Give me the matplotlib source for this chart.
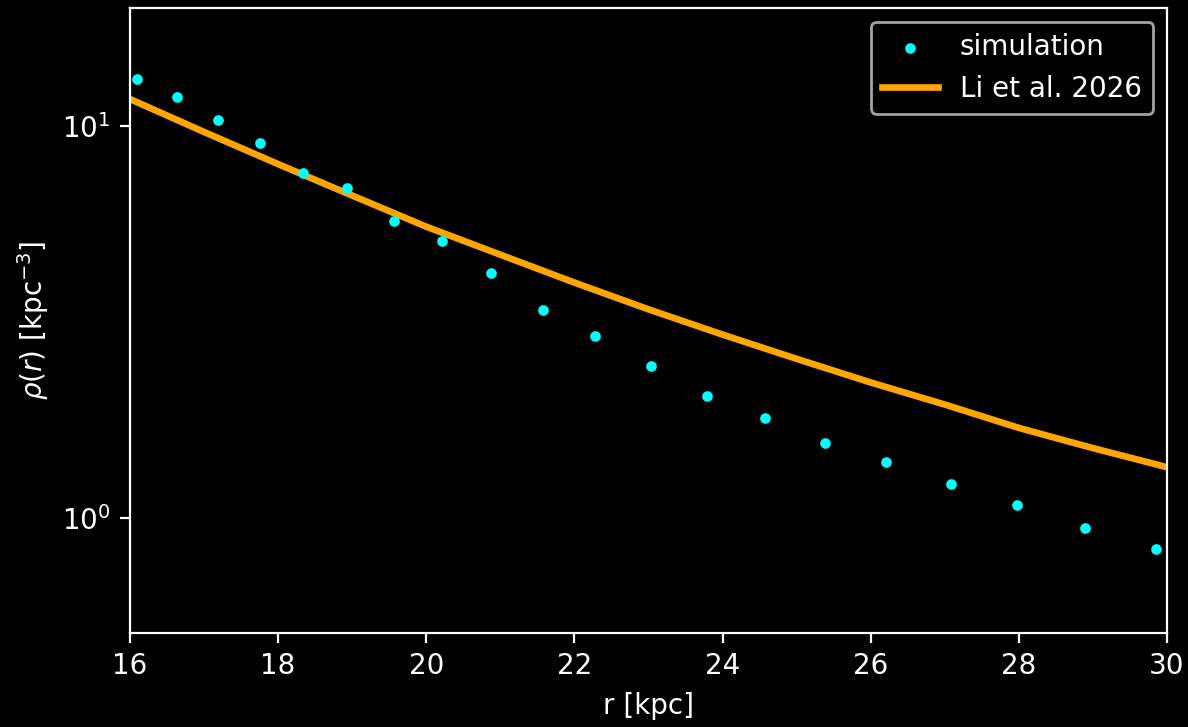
import matplotlib
matplotlib.use("Agg")
import matplotlib.pyplot as plt
from matplotlib.ticker import NullLocator

# simulation density profile
r_sim = [16.09, 16.63, 17.19, 17.76, 18.34, 18.93, 19.56, 20.21, 20.87, 21.58,
         22.28, 23.03, 23.79, 24.57, 25.38, 26.21, 27.08, 27.98, 28.89, 29.85]
rho_sim = [13.18, 11.86, 10.36, 9.05, 7.58, 6.95, 5.72, 5.09, 4.22, 3.39,
           2.91, 2.44, 2.05, 1.80, 1.56, 1.39, 1.22, 1.08, 0.943, 0.833]

# Li et al. 2026 model curve
r_model = [16, 17, 18, 19, 20, 21, 22, 23, 24, 25, 26, 27, 28, 29, 30]
rho_model = [11.72, 9.66, 8.00, 6.65, 5.54, 4.70, 3.99, 3.41, 2.94, 2.55,
             2.22, 1.95, 1.70, 1.51, 1.35]

plt.style.use("dark_background")
fig, ax = plt.subplots(figsize=(5.94, 3.635), dpi=200)
fig.subplots_adjust(left=0.1094, right=0.9823, top=0.989, bottom=0.1293)

ax.scatter(r_sim, rho_sim, s=8, color="cyan", label="simulation", zorder=3)
ax.plot(r_model, rho_model, color="orange", linewidth=2.4, label="Li et al. 2026")

ax.set_yscale("log")
ax.yaxis.set_minor_locator(NullLocator())
ax.set_xlim(16, 30)
ax.set_ylim(0.51, 20)
ax.set_xlabel("r [kpc]")
ax.set_ylabel(r"$\rho(r)$ [kpc$^{-3}$]")
ax.legend(loc="upper right")

fig.savefig("out.png", dpi=200)
